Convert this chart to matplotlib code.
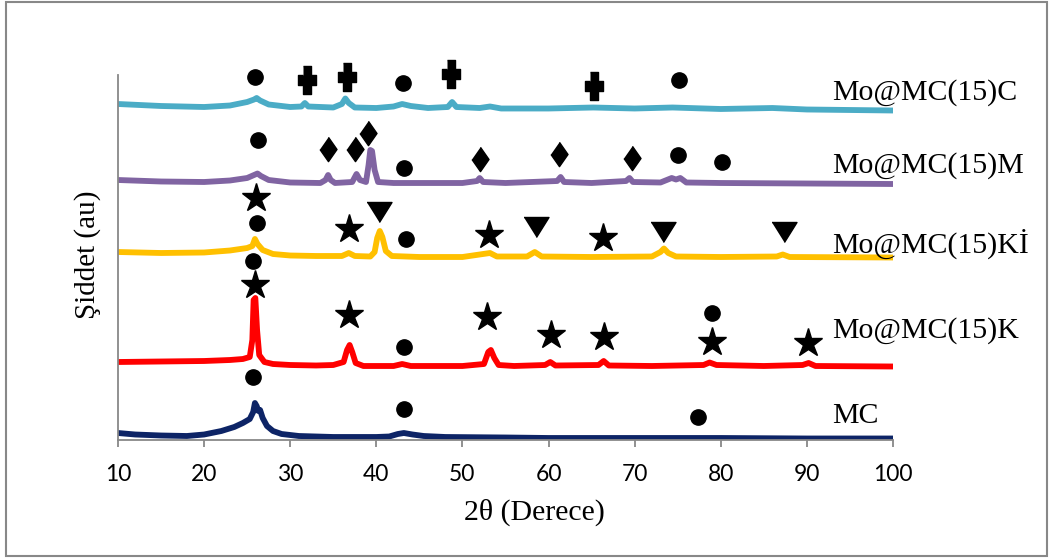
import matplotlib
matplotlib.use("Agg")
import matplotlib.pyplot as plt
from matplotlib.patches import Rectangle

# 2theta (deg) and stacked intensity (au, offsets included)
mc_x = [10, 12, 15, 18, 20, 22, 23.5, 24.5, 25.3, 25.7, 25.9, 26.1, 26.3, 26.5, 26.8,
        27.3, 28, 29, 31, 35, 40, 41.5, 42.5, 43.2, 44.2, 45.5, 48, 55, 60, 70, 80, 90, 100]
mc_y = [7, 5.5, 4.5, 4, 5.5, 9, 13, 17, 21, 28, 37, 34, 29, 30, 22,
        14, 9, 6, 4, 3, 3, 3.5, 6, 7, 5.5, 4, 3, 2.5, 2, 2, 2, 1.5, 1.5]

k_x = [10, 15, 20, 23, 24.5, 25.3, 25.6, 25.75, 25.95, 26.15, 26.4, 27, 28, 30, 33, 35,
       36.2, 36.6, 36.9, 37.2, 37.6, 38.5, 42, 43, 44, 50, 52.5, 53.0, 53.3, 53.7, 54.2,
       56, 59.6, 60.2, 60.8, 65.8, 66.4, 67, 72, 78, 78.7, 79.5, 85, 89.5, 90.2, 91, 100]
k_y = [78, 78.5, 79, 80, 81, 83, 100, 140, 142, 110, 85, 78, 76, 75, 74.5, 75,
       78, 90, 95, 88, 77, 74, 74, 76, 74, 74, 76, 88, 90, 82, 75,
       74, 75, 78, 74.5, 75, 79, 74.5, 74, 75, 77.5, 75, 74, 75, 77, 74, 73.5]

ki_x = [10, 15, 20, 23, 25, 25.6, 25.9, 26.2, 26.8, 28, 30, 33, 36, 36.8, 37.5, 39.3,
        39.8, 40.1, 40.4, 40.7, 41.1, 41.8, 45, 50, 53.2, 54, 57.5, 58.4, 59.2, 65, 72,
        73, 73.4, 73.9, 74.8, 80, 86.5, 87.2, 88, 100]
ki_y = [188, 187, 187.5, 189.5, 192, 194, 201, 196, 190, 186, 184.5, 184, 184, 187, 184, 183.5,
        188, 202, 209, 203, 189, 184, 183, 183, 187, 183.5, 183.5, 188, 183.5, 183, 183.5,
        188, 191.5, 187, 183.5, 183, 183.5, 185.5, 183, 182.5]

m_x = [10, 15, 20, 23, 25, 25.8, 26.2, 26.6, 27.5, 30, 33.5, 34.1, 34.4, 34.7, 35.2,
       37.2, 37.7, 38.1, 38.8, 39.1, 39.3, 39.5, 39.8, 40.2, 42, 45, 50, 51.7, 52.0, 52.4,
       55, 61, 61.4, 61.8, 65, 69, 69.4, 69.8, 73, 74.3, 74.8, 75.3, 76, 80, 90, 100]
m_y = [260, 258.5, 258, 259.5, 262, 265, 266.5, 264, 260, 257.5, 257, 260, 265, 260, 257,
       258, 266, 260, 258, 275, 290, 289, 270, 258, 257, 257, 257, 259, 262, 258,
       257, 259, 263, 258, 257, 259, 262, 258, 257.5, 262, 260.5, 262, 257.5, 257, 256.5, 256]

c_x = [10, 15, 20, 23, 25, 25.8, 26.1, 26.5, 27.5, 30, 31.3, 31.7, 32.1, 35, 36.0, 36.4,
       36.8, 37.5, 40, 42, 43, 44, 46, 48.3, 48.8, 49.3, 52, 53.2, 54.5, 60, 65.2, 70,
       74.4, 80, 86, 90, 100]
c_y = [336, 334, 333, 334.5, 338, 340.5, 342, 339.5, 335.5, 333, 333.5, 337, 333.5, 332.5, 336, 341.5,
       337, 332.5, 332, 333.5, 336, 334, 332, 333, 338, 333, 332, 333.5, 331.5, 331.5, 332.5, 331.5,
       332.5, 331, 332, 330.5, 329.5]

series_names = ["MC", "Mo@MC(15)K", "Mo@MC(15)Kİ", "Mo@MC(15)M", "Mo@MC(15)C"]
series_colors = ["#0D2466", "#FF0000", "#FFC000", "#8064A2", "#4BACC6"]
label_y = [17, 102, 187, 267, 340]

# phase markers (2theta, au)
circ_x = [25.9, 43.1, 75.1, 26.3, 43.2, 75.0, 80.1, 26.1, 43.4, 25.7, 43.2, 79.0, 25.7, 43.2, 77.4]
circ_y = [363, 357, 360, 300, 272, 285, 278, 217, 201, 179, 93, 127, 63, 31, 23]
star_x = [26.0, 36.8, 53.1, 66.3, 25.9, 36.8, 52.9, 60.3, 66.4, 79.0, 90.1]
star_y = [242, 211, 205, 202, 155, 125, 123, 105, 103, 98, 97]
tri_x = [40.3, 58.5, 73.3, 87.3]
tri_y = [228, 213, 208, 208]
dia_x = [34.4, 37.5, 39.0, 52.0, 61.2, 69.7]
dia_y = [291, 291, 307, 281, 286, 282]
plus_x = [31.9, 36.6, 48.7, 65.3]
plus_y = [360, 363, 366, 354]

serif = ["Liberation Serif", "DejaVu Serif"]
sans = ["Lato", "DejaVu Sans"]

fig = plt.figure(figsize=(10.51, 5.58), dpi=100)
ax = fig.add_axes([118 / 1051, 118 / 558, 775 / 1051, 365 / 558])

data = [(mc_x, mc_y), (k_x, k_y), (ki_x, ki_y), (m_x, m_y), (c_x, c_y)]
for (xs, ys), col in zip(data, series_colors):
    ax.plot(xs, ys, color=col, lw=4.2, solid_capstyle="round", solid_joinstyle="round")

tri = [(-1, 0.8), (1, 0.8), (0, -0.8)]
dia = [(0, 1), (0.7, 0), (0, -1), (-0.7, 0)]
plus = [(-0.33, 1), (0.33, 1), (0.33, 0.4), (0.63, 0.4), (0.63, -0.4), (0.33, -0.4),
        (0.33, -1), (-0.33, -1), (-0.33, -0.4), (-0.63, -0.4), (-0.63, 0.4), (-0.33, 0.4)]
mk = dict(color="black", ls="none", clip_on=False)
ax.plot(circ_x, circ_y, marker="o", ms=11, **mk)
ax.plot(star_x, star_y, marker="*", ms=21, **mk)
ax.plot(tri_x, tri_y, marker=tri, ms=18, **mk)
ax.plot(dia_x, dia_y, marker=dia, ms=17.5, **mk)
ax.plot(plus_x, plus_y, marker=plus, ms=19.5, **mk)

for name, yl in zip(series_names, label_y):
    ax.text(92.9, yl, name, fontsize=21.5, family=serif, ha="left", va="baseline", clip_on=False)

ax.set_xlim(10, 100)
ax.set_ylim(0, 365)
ax.set_xticks(range(10, 101, 10))
ax.set_yticks([])
for s in ("top", "right"):
    ax.spines[s].set_visible(False)
for s in ("left", "bottom"):
    ax.spines[s].set_color("#888888")
    ax.spines[s].set_linewidth(1.3)
ax.tick_params(axis="x", direction="out", length=5, width=1.3, color="#888888", pad=12,
               labelsize=16.5)
for t in ax.get_xticklabels():
    t.set_family(sans)

fig.text(534 / 1051, 1 - 512 / 558, "2θ (Derece)", fontsize=21.5, family=serif, ha="center", va="center")
fig.text(88 / 1051, 1 - 255 / 558, "Şiddet (au)", fontsize=21, family=serif, rotation=90,
         ha="center", va="center")

fig.patches.append(Rectangle((6 / 1051, 2.5 / 558), 1041 / 1051, 553.5 / 558, transform=fig.transFigure,
                             fill=False, ec="#888888", lw=1.5))

fig.savefig("out.png", dpi=100)
